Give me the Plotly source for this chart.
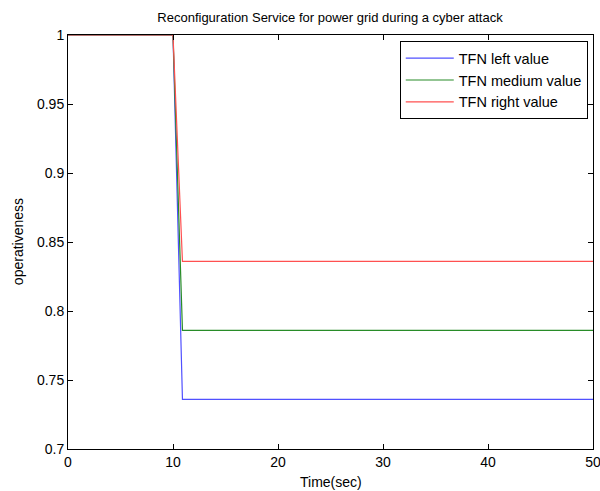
import plotly.graph_objects as go

time = [0, 10, 10.9, 50]
left_vals = [1.0, 1.0, 0.736, 0.736]
medium_vals = [1.0, 1.0, 0.786, 0.786]
right_vals = [1.0, 1.0, 0.836, 0.836]

x_ticks = [0, 10, 20, 30, 40, 50]
y_ticks = [0.7, 0.75, 0.8, 0.85, 0.9, 0.95, 1.0]
y_tick_labels = ["0.7", "0.75", "0.8", "0.85", "0.9", "0.95", "1"]

fig = go.Figure()
fig.add_trace(go.Scatter(x=time, y=left_vals, mode="lines", name="TFN left value",
                         line=dict(color="rgb(80,80,255)", width=1.2)))
fig.add_trace(go.Scatter(x=time, y=medium_vals, mode="lines", name="TFN medium value",
                         line=dict(color="rgb(40,140,40)", width=1.2)))
fig.add_trace(go.Scatter(x=time, y=right_vals, mode="lines", name="TFN right value",
                         line=dict(color="rgb(255,80,80)", width=1.2)))

axis_common = dict(showgrid=False, zeroline=False, showline=True, linecolor="black",
                   linewidth=1, mirror="ticks", ticks="inside", ticklen=5,
                   tickcolor="black", tickfont=dict(size=14, color="black"),
                   ticklabeloverflow="allow", automargin=False)

fig.update_layout(
    width=600, height=491,
    margin=dict(l=68, r=7, t=35, b=42),
    paper_bgcolor="white", plot_bgcolor="white",
    font=dict(family="Liberation Sans, Arial, sans-serif", color="black"),
    title=dict(text="Reconfiguration Service for power grid during a cyber attack",
               x=0.55, xanchor="center", y=0.965, yanchor="middle",
               font=dict(size=13, color="black")),
    xaxis=dict(range=[0, 50], tickvals=x_ticks, **axis_common),
    yaxis=dict(range=[0.7, 1.0], tickvals=y_ticks, ticktext=y_tick_labels, **axis_common),
    legend=dict(x=0.99, y=0.985, xanchor="right", yanchor="top",
                bgcolor="white", bordercolor="black", borderwidth=1,
                font=dict(size=14.5), tracegroupgap=0, itemwidth=48),
    showlegend=True,
    annotations=[
        dict(text="Time(sec)", xref="paper", yref="paper", x=0.5, y=-0.08,
             xanchor="center", yanchor="middle", showarrow=False,
             font=dict(size=14, color="black")),
        dict(text="operativeness", xref="paper", yref="paper", x=-0.095, y=0.5,
             xanchor="center", yanchor="middle", showarrow=False, textangle=-90,
             font=dict(size=14, color="black")),
    ],
)

fig.write_html("out.html")
